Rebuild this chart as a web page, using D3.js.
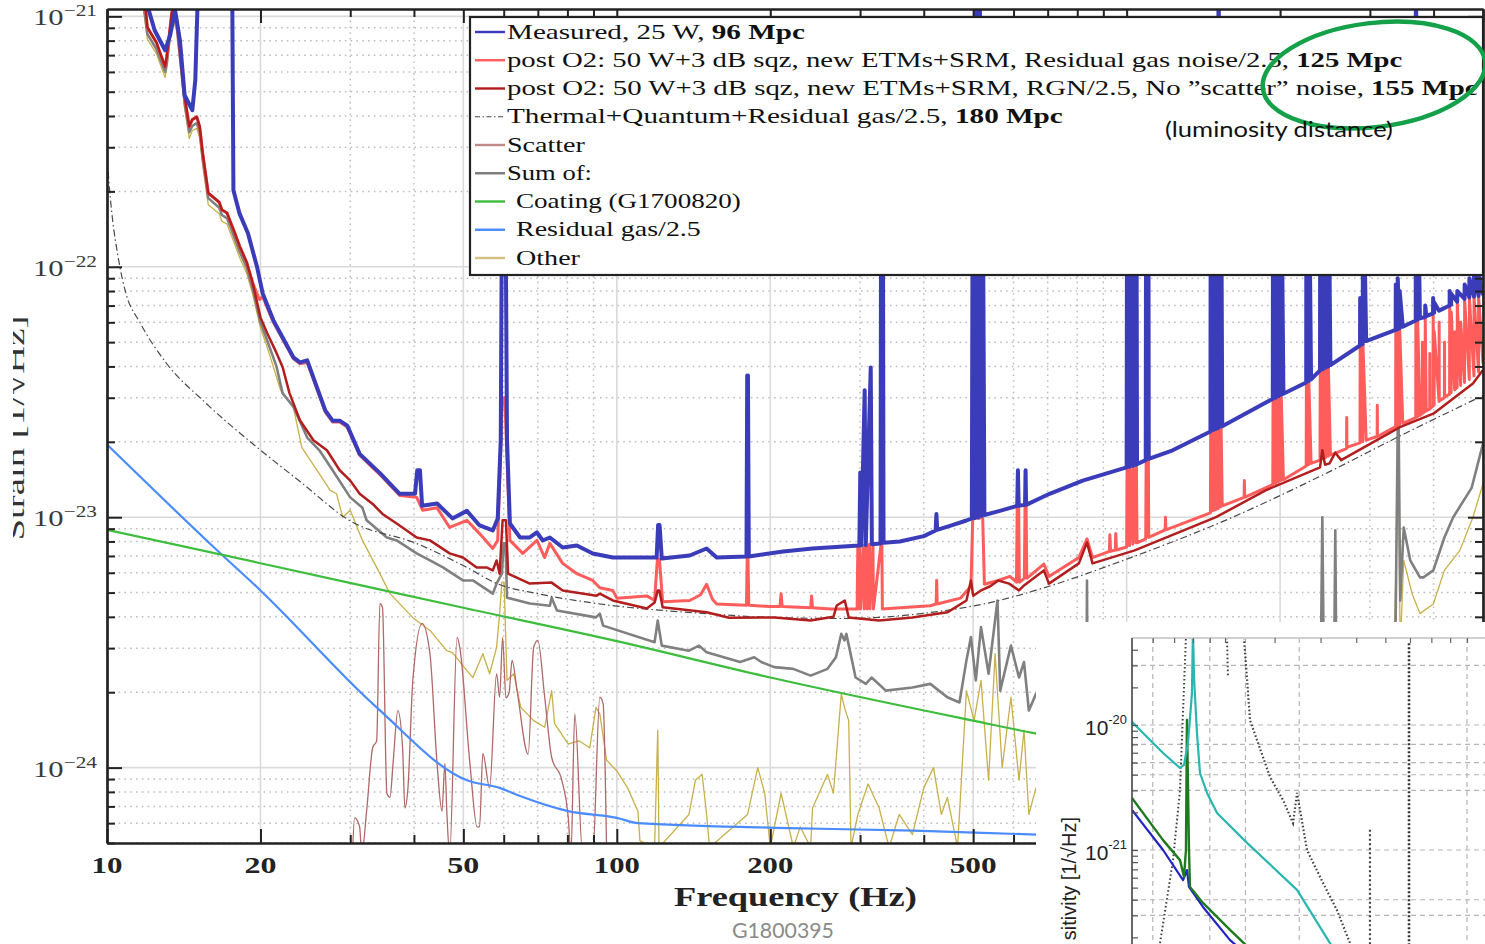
<!DOCTYPE html>
<html><head><meta charset="utf-8">
<script src="https://cdn.jsdelivr.net/npm/d3@7"></script>
<style>body{margin:0;background:#fff}svg{display:block}</style>
</head><body>
<svg id="c" width="1485" height="944"></svg>
<script>
// ---------------- DATA (frequency in Hz, strain in units of 1e-24 1/sqrt(Hz)) ----------------
const STRAIN_UNIT = 1e-24;

const measured = [
[11.5,1600],[12.0,1107],[12.4,880],[13.0,732],[13.3,840],[13.6,1058],[13.9,803],[14.2,484],[14.7,422],[14.9,556],[15.1,1400],[15.3,2500],
[17.4,2500],[17.6,1400],[17.7,202],[18.2,163],[18.9,136],[19.7,99.5],[20.2,78.3],[21.2,61.1],[23.2,43.5],[23.9,41.5],[24.7,42.3],[26.8,26.7],[27.7,24.3],[28.6,24.3],[29.6,23.2],[31.3,17.9],[34.3,15.0],[37.5,12.4],[40.2,12.4],[40.6,15.4],[41.1,15.4],[41.5,11.1],[44.4,11.35],[47.6,9.89],[50.8,10.6],[53.8,9.27],[57.1,8.85],[58.4,9.89],[59.2,20.3],[59.6,300],[60.4,300],[60.9,20.3],[61.7,9.44],[64.6,8.3],[67.5,8.3],[69.7,8.69],[71.6,8.07],[73.9,8.3],[78.3,7.57],[83.5,7.71],[89.7,7.16],[98.2,6.9],[114.5,6.9],[119.7,6.9],[120.5,9.3],[121.3,9.3],[122.5,6.84],[139,7.03],[150,7.5],[157,6.9],[179.6,6.97],[180.2,36.8],[180.8,36.8],[181.5,6.97],[212,7.3],[242,7.5],[299,7.71],[300.3,15.1],[301.6,7.72],[306.3,32.1],[307.8,7.75],[314.8,39.6],[316.4,7.8],[329,7.85],[330,300],[332.5,300],[333.5,7.9],[359,8.0],[400,8.4],[422,8.85],[423.5,10.3],[425,8.9],[455,9.3],[485,9.7],[497,9.89],[499,300],[503,9.9],[507,2000],[511,9.95],[515,2000],[519,10.1],[522,300],[526,10.2],[564,10.6],[610,11.1],[612,15.4],[614,11.1],[632,11.2],[633.5,15.4],[635,11.2],[706,12.4],[820,14.0],[1000,15.8],[1002,300],[1013,15.9],[1015,300],[1028,16.0],[1030,300],[1043,16.2],[1045,300],[1048,16.3],[1090,16.9],[1092,300],[1103,300],[1105,17.1],[1231,18.5],[1460,22.0],[1462,300],[1478,22.3],[1480,300],[1495,22.5],[1497,300],[1512,22.7],[1514,2000],[1530,23.0],[1532,300],[1540,23.1],[1935,29.7],[1937,300],[1960,30.0],[1962,300],[1985,30.4],[1987,300],[2008,30.8],[2010,300],[2030,31.1],[2250,34.5],[2252,300],[2275,35.0],[2277,300],[2300,35.5],[2395,38.6],[2397,300],[2425,39.0],[2427,300],[2455,39.5],[2457,300],[2485,40.0],[2487,300],[2510,40.5],[2869,48.5],[2871,75],[2905,49.2],[2907,300],[2950,50.5],[3370,56],[3372,85],[3400,56.3],[3402,90],[3430,56.8],[3432,80],[3480,57.6],[3690,61],[3692,2000],[3720,61.5],[3722,300],[3760,62.2],[3850,63],[3852,70],[3870,63.5],[3990,65.2],[3992,75],[4010,65.5],[4012,72],[4100,66.8],[4300,70],[4302,80],[4330,70.5],[4332,78],[4450,72.5],[4452,80],[4600,74.5],[4602,85],[4700,75.5],[4702,90],[4800,76],[4802,95],[4900,76.5],[4902,95],[5000,77]
];

const postO2 = [
[11.8,1290],[12.0,903],[12.5,787],[12.7,718],[13.0,630],[13.1,692],[13.4,1037],[13.5,1066],[13.7,972],[14.0,630],[14.2,477],[14.5,363],[14.7,387],[15.0,397],[15.2,363],[15.4,286],[15.8,197],[16.6,181],[16.8,169],[17.2,164],[17.4,154],[17.7,141],[18.2,121],[18.8,104],[19.3,86.5],[19.9,74],[20.2,76],[21.2,60],[23.2,43],[23.9,41],[24.7,41.5],[26.8,26.3],[27.7,24],[28.6,24],[29.6,22.9],[31.3,17.7],[34.3,14.8],[37.5,12.2],[40.5,12.0],[41.6,10.66],[44.4,10.9],[47.0,9.1],[50.8,9.72],[53.8,8.6],[57.1,7.5],[58.4,8.08],[59.6,30],[60.3,30],[61.7,8.08],[65.4,7.17],[69.7,8.08],[72.2,6.9],[73.9,7.86],[78.3,6.54],[83.5,5.95],[89.7,5.59],[92.6,5.23],[98.2,5.1],[100,4.75],[114.5,4.85],[118.6,4.65],[120.1,6.8],[121.2,6.8],[123,4.6],[139,4.65],[146,4.9],[150,5.4],[154,4.7],[157,4.5],[179.6,4.45],[180.2,6.9],[180.8,6.9],[181.5,4.45],[199,4.4],[209,4.4],[210,4.95],[211,4.4],[240,4.35],[241,4.85],[242,4.35],[263,4.3],[296,4.3],[297,7.7],[297.6,4.3],[300,7.7],[300.6,4.3],[305,7.7],[305.6,4.3],[309,7.7],[309.6,4.3],[313,7.8],[313.6,4.3],[318,7.8],[318.6,4.3],[330,7.85],[331,7.85],[331.8,4.3],[360,4.35],[412,4.43],[423,4.5],[424,5.6],[425,4.5],[472,4.75],[495,5.3],[499,9.9],[503,16],[507,9.9],[511,16],[515,9.9],[519,16],[522,9.9],[526,5.4],[562,5.6],[590,5.8],[608,5.5],[610,11.1],[614,11.1],[616,5.5],[630,5.7],[632,11.2],[635,11.2],[637,5.7],[688,6.5],[704,5.8],[806,6.9],[836,8.2],[857,6.9],[925,7.3],[927,8.5],[930,7.3],[950,7.4],[952,8.6],[955,7.4],[1000,7.6],[1002,15.8],[1013,7.7],[1015,15.9],[1028,7.8],[1030,16],[1043,7.9],[1045,16.2],[1048,7.9],[1090,8.2],[1092,16.9],[1103,16.9],[1105,8.3],[1190,8.9],[1192,10],[1194,8.9],[1460,10.4],[1462,22],[1478,10.6],[1480,22.3],[1495,10.7],[1497,22.5],[1512,10.8],[1514,22.7],[1530,11],[1532,23],[1540,11.1],[1700,12.0],[1702,14],[1704,12],[1935,13.5],[1937,29.7],[1960,13.6],[1962,30],[1985,13.8],[1987,30.4],[2008,14],[2010,30.8],[2030,14.1],[2250,16.0],[2252,34.5],[2275,16.2],[2277,35],[2300,16.4],[2395,16.9],[2397,38.6],[2425,17.1],[2427,39],[2455,17.3],[2457,39.5],[2485,17.5],[2487,40],[2510,17.7],[2700,18.8],[2702,25],[2704,19],[2869,19.8],[2871,48.5],[2905,20],[2907,49.2],[2950,20.3],[3100,21],[3102,28],[3104,21],[3370,23],[3372,56],[3400,23.2],[3402,56.3],[3430,23.4],[3432,56.8],[3480,23.7],[3690,25],[3692,61],[3720,25.2],[3722,61.5],[3760,25.5],[3800,26],[3802,50],[3804,26],[3850,26.5],[3852,63],[3870,26.6],[3930,27],[3932,45],[3934,27.1],[3990,27.8],[3992,65.2],[4010,28],[4012,55],[4100,29],[4102,60],[4104,29.1],[4200,30],[4202,50],[4204,30.2],[4300,31],[4302,70],[4330,31.4],[4332,66],[4400,32.2],[4402,55],[4404,32.4],[4450,33],[4452,72],[4520,33.6],[4522,60],[4600,34.5],[4602,74],[4700,35.5],[4702,75],[4800,36.6],[4802,76],[4900,38],[4902,76],[5000,41]
];

const postO2NoScatter = [
[11.8,1290],[12.0,903],[12.5,787],[12.7,718],[13.0,630],[13.1,692],[13.4,1037],[13.5,1066],[13.7,972],[14.0,630],[14.2,477],[14.5,363],[14.7,387],[15.0,397],[15.2,363],[15.4,286],[15.8,197],[16.6,181],[16.8,169],[17.2,164],[17.4,154],[17.7,141],[18.2,121],[18.8,104],[19.3,86.5],[20.0,62.8],[20.6,54.5],[21.5,45.3],[22.1,39.8],[22.8,31.3],[23.9,24.4],[25.4,20.3],[27.0,18.5],[28.6,15.4],[29.6,14.4],[30.0,14.0],[31.3,12.4],[33.2,11.3],[34.7,10.3],[37.0,9.44],[40.5,8.3],[43.0,8.08],[47.0,7.17],[49.9,6.9],[53.1,6.3],[55.5,6.3],[57.1,6.13],[58.1,6.72],[58.9,5.95],[59.7,9.72],[60.6,9.72],[61.2,5.95],[67.5,5.43],[74.5,5.48],[78.3,5.1],[91.3,4.86],[92.6,4.95],[98.2,4.65],[114.5,4.32],[118.6,4.56],[120.3,5.1],[121.2,5.1],[123,4.37],[150,4.17],[166,3.97],[204,3.98],[240,3.87],[266,4.0],[270,4.44],[280,4.65],[285,3.98],[327,3.87],[380,3.98],[445,4.17],[485,4.65],[495,5.59],[500,4.86],[518,5.1],[540,5.3],[560,5.59],[588,5.43],[615,5.1],[629,5.34],[688,6.13],[704,5.43],[806,6.54],[836,7.93],[857,6.54],[1037,7.37],[1497,10],[1873,12.8],[2395,15.8],[2420,18.5],[2450,16.2],[2500,16.4],[2566,18.1],[2635,16.9],[3436,22.9],[3995,25.9],[4778,34.2],[5000,38.7]
];

const thermalQuantum = [
[10,274],[10.15,189],[10.6,100],[10.9,78],[11.6,60],[13.1,41],[15.5,29],[19.7,19],[24,13.8],[29.9,9.7],[40.5,7.85],[50.8,6.3],[58.2,5.43],[70,4.95],[91.4,4.52],[150,4.12],[200,3.98],[277,3.94],[411,4.16],[550,4.6],[662,5.1],[1000,6.8],[1614,10],[2500,15.2],[3500,21.5],[5000,30.6]
];

const sumNoise = [
[11.7,1290],[12.0,850],[12.5,740],[12.7,680],[13.0,600],[13.1,650],[13.4,980],[13.5,1010],[13.7,920],[14.0,600],[14.2,450],[14.5,345],[14.7,365],[15.0,375],[15.2,345],[15.4,272],[15.8,188],[16.6,172],[16.8,161],[17.2,156],[17.4,147],[17.7,134],[18.2,115],[18.8,99],[19.3,82],[20.0,60],[20.6,51],[21.5,40],[22.1,31.3],[23.2,27.6],[24.7,20.8],[26.1,18.5],[27.7,15.4],[30.0,12.0],[31.7,10.9],[32.3,9.72],[35.4,8.3],[37.0,8.08],[40.5,7.17],[43.0,6.72],[45.6,6.3],[49.9,5.59],[52.2,5.59],[57.1,4.95],[58.1,5.43],[59.5,5.95],[60.0,7.86],[60.5,7.86],[60.9,4.77],[67.5,4.52],[73.9,4.43],[74.5,4.77],[76.3,4.24],[91,3.98],[92.6,4.12],[94,3.69],[118.6,3.17],[120.3,3.87],[122.5,3.07],[138.5,2.93],[145,3.07],[150,2.89],[174.5,2.64],[186,2.76],[192,2.64],[203.6,2.52],[221.8,2.48],[240,2.33],[259,2.48],[269,2.76],[275.6,3.42],[279.6,3.22],[282,3.42],[294,2.29],[308,2.16],[316,2.29],[337,2.03],[380,2.09],[412,2.16],[445,1.91],[470,1.82],[485,2.68],[495,3.32],[506,2.23],[518,3.64],[536,2.37],[558,4.65],[565,2.03],[593,3.07],[615,2.29],[629,2.64],[643,1.69],[664,1.97],[750,1.9],[834,1.9],[836,5.59],[838,1.9],[1200,1.8],[2400,1.9],[2420,10],[2440,1.9],[2550,2.0],[2566,8.86],[2580,2.0],[3200,2.5],[3370,3.87],[3410,36.3],[3440,4.65],[3495,9.1],[3600,6.72],[3761,5.75],[3820,5.75],[3995,6.13],[4200,8.3],[4370,10],[4750,13.1],[5000,19.7]
];

const coatingNoise = [[10,8.9],[20,6.55],[50,4.35],[100,3.2],[200,2.29],[500,1.54],[662,1.37],[1000,1.2],[5000,0.7]];

const residualGas = [[10,19.5],[16.3,7.5],[20,5.1],[33.8,1.74],[50.8,0.89],[58.9,0.83],[64.6,0.77],[80.3,0.67],[100,0.63],[110,0.60],[205,0.575],[382,0.56],[667,0.54],[1000,0.53],[5000,0.52]];

const scatterNoise = [
[30.3,0.45],[30.6,0.63],[31.3,0.58],[31.6,0.45],[32.3,0.67],[33.2,1.2],[33.8,1.28],[34.3,4.52],[34.7,4.36],[35.4,0.79],[35.9,0.76],[36.4,1.04],[37.2,1.69],[38.0,1.2],[38.4,0.69],[38.9,0.81],[39.8,2.23],[41.5,3.77],[43.0,2.85],[44.4,1.04],[45.4,0.67],[46.0,1.04],[46.4,0.67],[47.0,0.45],[48.6,3.31],[49.2,3.02],[51.5,1.04],[53.2,0.58],[53.8,0.58],[54.6,1.14],[56.3,0.83],[58.1,2.37],[58.9,1.91],[59.7,3.31],[60.6,1.9],[61.5,2.0],[62.3,2.68],[63.8,2.0],[67,1.13],[68.7,3.03],[70,3.22],[72.2,1.91],[74.5,1.1],[78,0.89],[80.3,0.63],[81.3,0.45],[82.7,1.64],[85.7,0.45],[89.7,0.45],[92.6,1.91],[94,1.8],[95.5,0.45]
];

const otherNoise = [
[11.7,1200],[12.0,810],[12.5,710],[12.7,650],[13.0,570],[13.1,620],[13.4,930],[13.5,960],[13.7,875],[14.0,565],[14.2,430],[14.5,325],[14.7,350],[15.0,357],[15.2,327],[15.4,257],[15.8,177],[16.6,163],[16.8,152],[17.2,148],[17.4,139],[17.7,127],[18.2,109],[18.8,94],[19.3,78],[20.0,57],[20.6,48],[21.9,32.2],[23.2,27.6],[24.1,19.0],[26.1,14.9],[27.4,12.8],[28.2,12.4],[29.0,10.0],[30.0,10.66],[31.7,8.08],[34.3,5.95],[35.9,4.95],[39.8,3.97],[43.0,3.53],[46.4,2.93],[47.6,2.88],[50.8,2.44],[52.2,2.29],[54.6,2.85],[56.3,2.37],[58.1,3.02],[58.9,4.12],[59.5,5.5],[60.1,5.5],[60.9,2.23],[62.8,2.37],[64.8,1.74],[68.7,1.54],[72.2,1.45],[74.5,2.03],[75.5,1.5],[80.3,1.24],[84.2,1.28],[88.5,1.2],[91,1.74],[92.6,1.64],[95.5,1.07],[100,0.97],[105,0.83],[110,0.67],[111,0.51],[118.6,0.48],[120.3,1.41],[121,0.48],[138.5,0.65],[142.6,0.89],[147,0.94],[150,0.65],[152,0.48],[180.5,0.65],[189,1.0],[195,0.79],[200,0.48],[210,0.79],[222,0.48],[229,0.58],[240,0.48],[242,0.69],[259,0.94],[266,0.79],[275.6,1.97],[279.6,1.74],[285,1.54],[288,0.48],[297,0.65],[311,0.86],[327,0.69],[342,0.48],[358,0.65],[380,0.54],[400,0.83],[418,1.0],[433,0.65],[445,0.76],[466,0.48],[485,2.03],[502,1.54],[518,2.23],[536,0.89],[552,2.85],[570,1.0],[593,1.91],[615,0.89],[629,1.41],[643,0.65],[664,0.83],[700,0.6],[2400,0.6],[2420,6.3],[2440,0.6],[2550,0.6],[2566,5.2],[2580,0.6],[3300,0.8],[3410,16.9],[3440,3],[3495,6.72],[3630,4.95],[3761,4.12],[3995,4.5],[4200,6.13],[4504,7.37],[4778,10],[5000,13.6]
];

const xMajorTicks = [10,20,50,100,200,500,1000,2000,5000];
const xMinorTicks = [30,40,60,70,80,90,300,400,600,700,800,900,3000,4000];
const xTickLabels = [[10,'10'],[20,'20'],[50,'50'],[100,'100'],[200,'200'],[500,'500']];
const yTickExponents = [-24,-23,-22,-21];

const legendRows = [
  {key:'measured', pre:'Measured, 25 W, ', bold:'96 Mpc'},
  {key:'postO2', pre:'post O2: 50 W+3 dB sqz, new ETMs+SRM, Residual gas noise/2.5, ', bold:'125 Mpc'},
  {key:'postO2NoScatter', pre:'post O2: 50 W+3 dB sqz, new ETMs+SRM, RGN/2.5, No \u201Dscatter\u201D noise, ', bold:'155 Mpc'},
  {key:'thermalQuantum', pre:'Thermal+Quantum+Residual gas/2.5, ', bold:'180 Mpc'},
  {key:'scatter', pre:'Scatter', bold:''},
  {key:'sum', pre:'Sum of:', bold:''},
  {key:'coating', pre:' Coating (G1700820)', bold:''},
  {key:'residual', pre:' Residual gas/2.5', bold:''},
  {key:'other', pre:' Other', bold:''}
];

// Inset (cropped second figure): frequency (arbitrary Hz), value in units of 1e-21
const INSET_UNIT = 1e-21;
const insetTeal = [[0.1229,10.6],[0.1317,8.63],[0.1493,5.97],[0.166,4.53],[0.1702,4.79],[0.1745,7.18],[0.1789,18],[0.18,60],[0.1812,24.2],[0.1846,8.63],[0.1881,4.13],[0.1966,2.86],[0.2093,1.98],[0.2525,1.14],[0.3452,0.48],[0.4243,0.18],[0.45,0.14]];
const insetGreen = [[0.1229,2.61],[0.1493,1.2],[0.166,0.83],[0.1702,0.61],[0.1723,1.0],[0.1734,11],[0.1756,1.0],[0.1767,0.506],[0.1917,0.377],[0.227,0.23],[0.2525,0.17]];
const insetBlue = [[0.1229,2.09],[0.1493,1.0],[0.1692,0.575],[0.1734,0.69],[0.1756,0.506],[0.1917,0.35],[0.227,0.19],[0.25,0.15]];
const insetDotRise = [[0.1465,0.18],[0.1589,0.83],[0.166,3.0],[0.1692,13],[0.1723,50]];
const insetDotShort = [[0.2227,50],[0.2241,24]];
const insetDotFall = [[0.2477,50],[0.2573,10.9],[0.2915,3.84],[0.3162,2.51],[0.3367,1.64],[0.3452,2.86],[0.3675,1.0],[0.4062,0.545],[0.4433,0.33],[0.4809,0.18],[0.5,0.15]];
const insetDotVertA = [[0.6957,45],[0.6957,0.15]];
const insetDotVertB = [[0.5449,1.45],[0.5449,0.15]];
const insetGridX = [0.14,0.2,0.25,0.35,1.0];
const insetGridY = [30,10,7,5,4,3,1,0.4,0.3];
const insetTopTicks = [0.14,0.16,0.18,0.2,0.22,0.3,0.4,0.5,0.6,0.7,0.8,0.9,1.0];
const insetYTickExponents = [-20,-21];

// ---------------- DRAWING ----------------
const W = 1485, H = 944;
const M = {l:107, r:1483, t:9, b:843};
const svg = d3.select('#c');
svg.append('rect').attr('width',W).attr('height',H).attr('fill','#fff');
const defs = svg.append('defs');
defs.append('clipPath').attr('id','plotClip').append('rect')
  .attr('x',M.l).attr('y',M.t).attr('width',M.r-M.l).attr('height',M.b-M.t);
defs.append('clipPath').attr('id','leftCrop').append('rect')
  .attr('x',13).attr('y',0).attr('width',W).attr('height',H);

const x = d3.scaleLog().domain([10,5000]).range([M.l,M.r]);
const y = d3.scaleLog().domain([5e-25,1.07e-21]).range([M.b,M.t]);

const yMajor = yTickExponents.map(e => Math.pow(10,e));
const yMinor = [];
[-25,-24,-23,-22].forEach(e => { for (let k=2;k<=9;k++){ const v=k*Math.pow(10,e); if (v>5e-25 && v<1.07e-21) yMinor.push(v);} });

// grid
const grid = svg.append('g');
grid.selectAll('.gxm').data(xMinorTicks).join('line')
  .attr('x1',d=>x(d)).attr('x2',d=>x(d)).attr('y1',M.t).attr('y2',M.b)
  .attr('stroke','#bdbdbd').attr('stroke-width',1.5).attr('stroke-dasharray','1.6,4.2');
grid.selectAll('.gym').data(yMinor).join('line')
  .attr('y1',d=>y(d)).attr('y2',d=>y(d)).attr('x1',M.l).attr('x2',M.r)
  .attr('stroke','#bdbdbd').attr('stroke-width',1.5).attr('stroke-dasharray','1.6,4.2');
grid.selectAll('.gxM').data(xMajorTicks).join('line')
  .attr('x1',d=>x(d)).attr('x2',d=>x(d)).attr('y1',M.t).attr('y2',M.b)
  .attr('stroke','#dadada').attr('stroke-width',1.6);
grid.selectAll('.gyM').data(yMajor).join('line')
  .attr('y1',d=>y(d)).attr('y2',d=>y(d)).attr('x1',M.l).attr('x2',M.r)
  .attr('stroke','#dadada').attr('stroke-width',1.6);

// series
const plot = svg.append('g').attr('clip-path','url(#plotClip)');
const lineGen = d3.line().x(d=>x(d[0])).y(d=>y(d[1]*STRAIN_UNIT));
const smoothGen = d3.line().x(d=>x(d[0])).y(d=>y(d[1]*STRAIN_UNIT)).curve(d3.curveMonotoneX);
const styles = {
  other:{data:otherNoise, color:'#c8b04a', w:1.3},
  scatter:{data:scatterNoise, color:'#b06868', w:1.3, smooth:true},
  residual:{data:residualGas, color:'#4a8cff', w:2.2, smooth:true},
  coating:{data:coatingNoise, color:'#3cbd3c', w:2.2, smooth:true},
  sum:{data:sumNoise, color:'#808080', w:2.6},
  thermalQuantum:{data:thermalQuantum, color:'#4a4a4a', w:1.2, dash:'7,3,1.5,3', smooth:true},
  postO2:{data:postO2, color:'#ff5c5c', w:3},
  postO2NoScatter:{data:postO2NoScatter, color:'#b21e1e', w:2.5},
  measured:{data:measured, color:'#3b3cb9', w:4}
};
['other','scatter','residual','coating','sum','thermalQuantum','postO2','postO2NoScatter','measured'].forEach(k => {
  const s = styles[k];
  plot.append('path').datum(s.data)
    .attr('d', s.smooth ? smoothGen : lineGen)
    .attr('fill','none').attr('stroke',s.color).attr('stroke-width',s.w)
    .attr('stroke-linejoin','round').attr('stroke-linecap','butt')
    .attr('stroke-dasharray', s.dash || null);
});

// axes (inward ticks) via d3 axes
function styleAxis(g){
  g.selectAll('.domain').attr('stroke','#222').attr('stroke-width',2.2);
  g.selectAll('.tick line').attr('stroke','#222').attr('stroke-width',2);
  g.selectAll('.tick text').remove();
}
svg.append('g').attr('transform',`translate(0,${M.b})`)
  .call(d3.axisBottom(x).tickValues(xMajorTicks).tickSizeInner(-14).tickSizeOuter(0).tickFormat('')).call(styleAxis);
svg.append('g').attr('transform',`translate(0,${M.b})`)
  .call(d3.axisBottom(x).tickValues(xMinorTicks).tickSizeInner(-8).tickSizeOuter(0).tickFormat('')).call(styleAxis);
svg.append('g').attr('transform',`translate(0,${M.t})`)
  .call(d3.axisTop(x).tickValues(xMajorTicks).tickSizeInner(-14).tickSizeOuter(0).tickFormat('')).call(styleAxis);
svg.append('g').attr('transform',`translate(0,${M.t})`)
  .call(d3.axisTop(x).tickValues(xMinorTicks).tickSizeInner(-8).tickSizeOuter(0).tickFormat('')).call(styleAxis);
svg.append('g').attr('transform',`translate(${M.l},0)`)
  .call(d3.axisLeft(y).tickValues(yMajor).tickSizeInner(-15).tickSizeOuter(0).tickFormat('')).call(styleAxis);
svg.append('g').attr('transform',`translate(${M.l},0)`)
  .call(d3.axisLeft(y).tickValues(yMinor).tickSizeInner(-8).tickSizeOuter(0).tickFormat('')).call(styleAxis);
svg.append('g').attr('transform',`translate(${M.r},0)`)
  .call(d3.axisRight(y).tickValues(yMajor).tickSizeInner(-15).tickSizeOuter(0).tickFormat('')).call(styleAxis);
svg.append('g').attr('transform',`translate(${M.r},0)`)
  .call(d3.axisRight(y).tickValues(yMinor).tickSizeInner(-8).tickSizeOuter(0).tickFormat('')).call(styleAxis);

// text fitting helper: scales text horizontally so its ink spans `width`
function fit(sel, x0, y0, width, anchor){
  const bb = sel.node().getBBox();
  const s = width / bb.width;
  let tx = x0;
  if (anchor === 'end') tx = x0 - width;
  else if (anchor === 'middle') tx = x0 - width/2;
  sel.attr('transform', `translate(${tx - bb.x*s},${y0}) scale(${s},1)`);
}
const SERIF = "'Liberation Serif','DejaVu Serif',serif";
const SANS = "Lato,'Liberation Sans',sans-serif";

// y tick labels
yTickExponents.forEach(e => {
  const t = svg.append('text').attr('x',0).attr('y',0).attr('font-family',SERIF).attr('fill','#3a3a3a');
  t.append('tspan').attr('font-size',23).text('10');
  t.append('tspan').attr('font-size',16).attr('dy',-9).text('\u2212' + Math.abs(e));
  fit(t, 97, y(Math.pow(10,e)) + 9, 64, 'end');
});
// x tick labels
const xLabelWidths = {10:31,20:32,50:32,100:46,200:46,500:47};
xTickLabels.forEach(([v,lab]) => {
  const t = svg.append('text').attr('font-family',SERIF).attr('font-weight','bold').attr('font-size',23).attr('fill','#222').text(lab);
  fit(t, x(v), 873, xLabelWidths[v], 'middle');
});
// x axis title
const xt = svg.append('text').attr('font-family',SERIF).attr('font-weight','bold').attr('font-size',27).attr('fill','#222').text('Frequency (Hz)');
fit(xt, 674, 906, 243, 'start');
// y axis title (partly cropped at the left edge, as in the source image)
const ytG = svg.append('g').attr('clip-path','url(#leftCrop)');
const ytInner = ytG.append('g').attr('transform','translate(24,428) rotate(-90)');
const yt = ytInner.append('text').attr('font-family',SERIF).attr('font-size',26).attr('fill','#333').text('Strain [1/\u221AHz]');
fit(yt, 0, 0, 225, 'middle');

// legend
const leg = svg.append('g');
leg.append('rect').attr('x',470).attr('y',17).attr('width',1013).attr('height',258)
  .attr('fill','#fff').attr('stroke','#222').attr('stroke-width',2.2);
const legendColors = {measured:'#3b3cb9',postO2:'#ff5c5c',postO2NoScatter:'#b21e1e',thermalQuantum:'#4a4a4a',scatter:'#c08888',sum:'#7a7a7a',coating:'#3cbd3c',residual:'#4a8cff',other:'#d4c080'};
const legendSpans = [[507,805],[507,1403],[507,1478],[507,1063],[507,585],[507,592],[516,741],[516,701],[516,580]];
legendRows.forEach((r,i) => {
  const cy = 32 + i*28.25;
  leg.append('line').attr('x1',475).attr('x2',505).attr('y1',cy).attr('y2',cy)
    .attr('stroke',legendColors[r.key]).attr('stroke-width', r.key==='thermalQuantum'?1.2:2.4)
    .attr('stroke-dasharray', r.key==='thermalQuantum' ? '5,2.5,1.5,2.5' : null);
  const t = leg.append('text').attr('font-family',SERIF).attr('font-size',21).attr('fill','#111');
  t.append('tspan').text(r.pre.trim());
  if (r.bold) { t.append('tspan').text('\u00A0'); t.append('tspan').attr('font-weight','bold').text(r.bold); }
  fit(t, legendSpans[i][0], cy + 6.5, legendSpans[i][1]-legendSpans[i][0], 'start');
});

// annotation: green ellipse and luminosity-distance note
svg.append('ellipse').attr('cx',1374).attr('cy',75).attr('rx',112).attr('ry',52)
  .attr('transform','rotate(-7,1374,75)')
  .attr('fill','none').attr('stroke','#15a04a').attr('stroke-width',4.5);
const ld = svg.append('text').attr('font-family',SANS).attr('font-size',22).attr('fill','#111').text('(luminosity distance)');
fit(ld, 1165, 137, 228, 'start');

// G number
const gn = svg.append('text').attr('font-family',SANS).attr('font-size',21).attr('fill','#8a8a8a').text('G1800395');
fit(gn, 732, 938, 102, 'start');

// ---------------- INSET (cropped second plot) ----------------
svg.append('rect').attr('x',1036).attr('y',622).attr('width',W-1036).attr('height',H-622).attr('fill','#fff');
const IL = 1132, IT = 638;
const ix = d3.scaleLog().domain([0.1,1]).range([1099,1467]);
const iy = d3.scaleLog().domain([1e-21,1e-20]).range([850,725]);
defs.append('clipPath').attr('id','insetClip').append('rect')
  .attr('x',IL).attr('y',IT).attr('width',W-IL).attr('height',H-IT);
const ins = svg.append('g');
const ig = ins.append('g').attr('clip-path','url(#insetClip)');
ig.selectAll('.igx').data(insetGridX).join('line')
  .attr('x1',d=>ix(d)).attr('x2',d=>ix(d)).attr('y1',IT).attr('y2',H)
  .attr('stroke','#b5b5b5').attr('stroke-width',1.2).attr('stroke-dasharray','5,4');
ig.selectAll('.igy').data(insetGridY).join('line')
  .attr('y1',d=>iy(d*INSET_UNIT)).attr('y2',d=>iy(d*INSET_UNIT)).attr('x1',IL).attr('x2',W)
  .attr('stroke','#b5b5b5').attr('stroke-width',1.2).attr('stroke-dasharray','5,4');
const iline = d3.line().x(d=>ix(d[0])).y(d=>iy(d[1]*INSET_UNIT));
[[insetDotRise,'#444',2.0,'1.6,2.4'],[insetDotShort,'#444',2.0,'1.6,2.4'],[insetDotFall,'#444',2.2,'1.6,2.2'],
 [insetDotVertA,'#333',2.6,'2,2'],[insetDotVertB,'#444',2.2,'2,2.5']].forEach(([d,c,w,da]) => {
  ig.append('path').datum(d).attr('d',iline).attr('fill','none').attr('stroke',c).attr('stroke-width',w).attr('stroke-dasharray',da);
});
[[insetBlue,'#2323c6',2.2],[insetGreen,'#1f7a1f',2.4],[insetTeal,'#2bb5b0',2.2]].forEach(([d,c,w]) => {
  ig.append('path').datum(d).attr('d',iline).attr('fill','none').attr('stroke',c).attr('stroke-width',w).attr('stroke-linejoin','round');
});
// inset frame + ticks
ins.append('line').attr('x1',IL).attr('x2',W).attr('y1',IT).attr('y2',IT).attr('stroke','#d0d0d0').attr('stroke-width',2.2);
ins.append('g').attr('transform',`translate(0,${IT})`)
  .call(d3.axisBottom(ix).tickValues(insetTopTicks).tickSizeInner(5).tickSizeOuter(0).tickFormat(''))
  .call(g => { g.select('.domain').remove(); g.selectAll('.tick line').attr('stroke','#666').attr('stroke-width',1.2); });
const insetYMinor = [];
[-22,-21,-20].forEach(e => { for (let k=1;k<=9;k++){ const v=k*Math.pow(10,e); if (v>1.8e-22 && v<5e-20) insetYMinor.push(v);} });
ins.append('g').attr('transform',`translate(${IL},0)`)
  .call(d3.axisLeft(iy).tickValues(insetYMinor).tickSizeInner(-6).tickSizeOuter(0).tickFormat(''))
  .call(g => { g.select('.domain').remove(); g.selectAll('.tick line').attr('stroke','#555').attr('stroke-width',1.2); });
ins.append('line').attr('x1',IL).attr('x2',IL).attr('y1',IT).attr('y2',H).attr('stroke','#444').attr('stroke-width',1.6);
insetYTickExponents.forEach(e => {
  const t = ins.append('text').attr('font-family',"'Liberation Sans',Arial,sans-serif").attr('fill','#222');
  t.append('tspan').attr('font-size',21).text('10');
  t.append('tspan').attr('font-size',13).attr('dy',-11).text('-' + Math.abs(e));
  fit(t, 1127, iy(Math.pow(10,e)) + 10, 42, 'end');
});
const ilab = ins.append('g').attr('transform','translate(1076,817) rotate(-90)');
ilab.append('text').attr('font-family',"'Liberation Sans',Arial,sans-serif").attr('font-size',20)
  .attr('fill','#222').attr('text-anchor','end').attr('x',0).attr('y',0).text('sitivity [1/\u221AHz]');
</script>
</body></html>
